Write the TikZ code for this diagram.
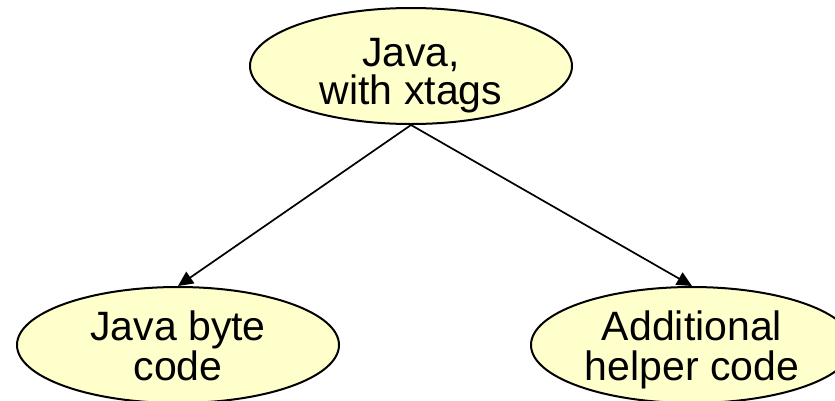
\documentclass[tikz,border=0pt]{standalone}
\usepackage{fontspec}
\setmainfont{Liberation Sans}
\usetikzlibrary{shapes.geometric,arrows.meta}
\definecolor{nodefill}{RGB}{255,255,204}
\newcommand\twolines[2]{\vtop{\halign{\hfil##\hfil\cr#1\cr#2\cr}}}
\begin{document}
\begin{tikzpicture}[x=1pt,y=-1pt,
  bubble/.style={ellipse,draw=black,line width=2pt,fill=nodefill,
    minimum width=322pt,minimum height=116pt,inner sep=0pt,
    font=\fontsize{41}{38}\selectfont},
  lowbubble/.style={bubble,font=\fontsize{41}{40}\selectfont},
  link/.style={draw=black,line width=1.7pt,-{Triangle[length=15pt,width=14pt]}}]
\useasboundingbox (0,0) rectangle (835,400);
\node[bubble,text height=0pt,text depth=0pt] (top) at (411,66) {\twolines{Java,}{with xtags}};
\node[lowbubble,text height=0pt,text depth=10pt] (left) at (178,345) {\twolines{Java byte}{code}};
\node[lowbubble,text height=0pt,text depth=10pt] (right) at (692,345) {\twolines{Additional}{helper code}};
\draw[link] (top.south) -- (left.north);
\draw[link] (top.south) -- (right.north);
\end{tikzpicture}
\end{document}
